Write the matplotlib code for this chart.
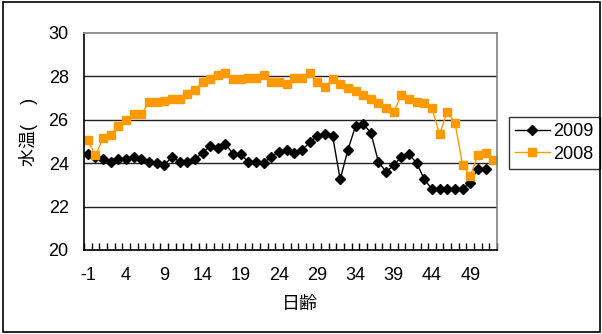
import matplotlib.pyplot as plt
import numpy as np
from matplotlib.patches import Rectangle

plt.rcParams['font.family'] = ['Liberation Sans', 'Noto Sans CJK JP']

# 日齢 -1 .. 52
days = list(range(-1, 53))
tick_days = [-1, 4, 9, 14, 19, 24, 29, 34, 39, 44, 49]

temp_2009 = [24.4, 24.3, 24.2, 24.05, 24.2, 24.2, 24.3, 24.2, 24.05, 24.0,
             23.9, 24.3, 24.05, 24.05, 24.2, 24.45, 24.8, 24.7, 24.9, 24.4,
             24.4, 24.05, 24.05, 24.0, 24.3, 24.5, 24.6, 24.45, 24.6, 24.95,
             25.25, 25.35, 25.25, 23.25, 24.6, 25.7, 25.8, 25.4, 24.05, 23.6,
             23.9, 24.3, 24.4, 24.0, 23.25, 22.8, 22.8, 22.8, 22.8, 22.8,
             23.1, 23.75, 23.75]
temp_2008 = [25.05, 24.35, 25.15, 25.3, 25.7, 26.0, 26.25, 26.25, 26.8, 26.8,
             26.85, 26.95, 26.95, 27.2, 27.35, 27.75, 27.85, 28.05, 28.15, 27.85,
             27.85, 27.9, 27.9, 28.05, 27.75, 27.75, 27.62, 27.9, 27.9, 28.15,
             27.75, 27.5, 27.85, 27.62, 27.47, 27.3, 27.15, 26.95, 26.78, 26.55,
             26.35, 27.15, 26.93, 26.83, 26.78, 26.52, 25.33, 26.37, 25.86, 23.92,
             23.4, 24.36, 24.48, 24.13]

fig = plt.figure(figsize=(6.02, 3.34), dpi=100)
ax = fig.add_axes([84 / 602, 1 - 250 / 334, 413 / 602, (250 - 32.7) / 334])

x = np.arange(len(days))
ax.plot(x[:len(temp_2009)], temp_2009, color='black', linewidth=1,
        marker='D', markersize=5.5, label='2009')
ax.plot(x, temp_2008, color='#FF9900', linewidth=1,
        marker='s', markersize=5.5, label='2008')

ax.set_xlim(-0.5, len(days) - 0.5)
ax.set_ylim(20, 30)
ax.set_yticks(range(20, 31, 2))
for v in range(22, 30, 2):
    ax.axhline(v, color='#222222', linewidth=1, zorder=0)

# category labels every 5 days, boundary ticks on every category
ax.set_xticks([days.index(d) for d in tick_days])
ax.set_xticklabels([str(d) for d in tick_days])
ax.set_xticks(np.arange(-0.5, len(days)), minor=True)
ax.tick_params(axis='x', which='major', length=0, pad=12, labelsize=13)
ax.tick_params(axis='x', which='minor', direction='in', length=5, width=1)
ax.tick_params(axis='y', length=0, pad=11, labelsize=13)

for side in ['top', 'right']:
    ax.spines[side].set_color('#808080')
    ax.spines[side].set_linewidth(1.2)
for side in ['left', 'bottom']:
    ax.spines[side].set_color('black')
    ax.spines[side].set_linewidth(1.2)

fig.text(300 / 602, 1 - 304 / 334, '日齢', ha='center', va='center', fontsize=13)
fig.text(29 / 602, 1 - 132 / 334, '水温(    )', ha='center', va='center',
         fontsize=13, rotation=90)

leg = ax.legend(loc='center left', bbox_to_anchor=(509 / 602, 1 - 143 / 334),
                bbox_transform=fig.transFigure, fontsize=13, frameon=True,
                fancybox=False, handlelength=1.9, handletextpad=0.2,
                borderpad=0.35, labelspacing=0.3, borderaxespad=0)
leg.get_frame().set_edgecolor('black')
leg.get_frame().set_linewidth(1)

fig.patches.append(Rectangle((3 / 602, 2 / 334), 597 / 602, 330 / 334,
                             transform=fig.transFigure, fill=False,
                             edgecolor='black', linewidth=1.2))

fig.savefig('out.png', dpi=100)
